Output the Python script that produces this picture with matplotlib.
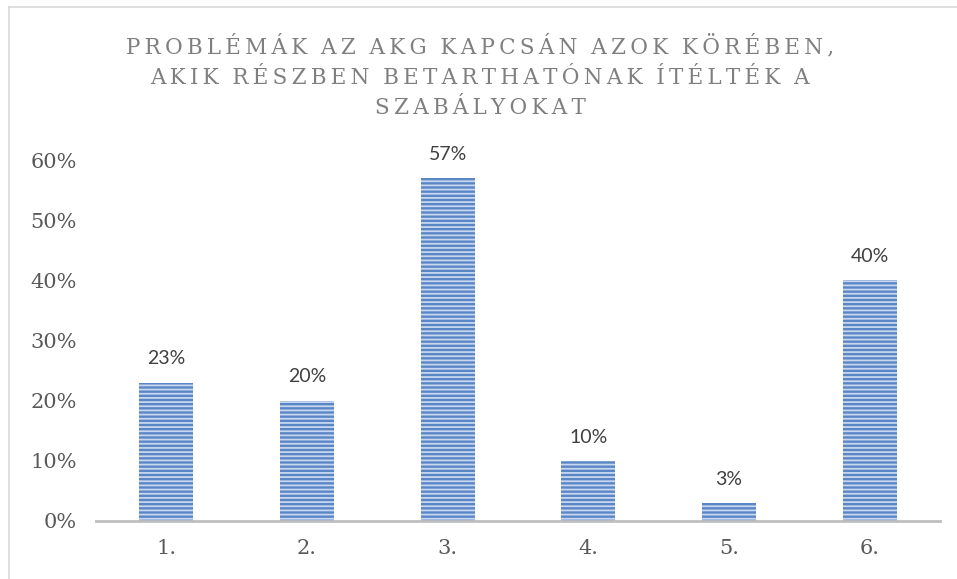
import matplotlib.pyplot as plt
from matplotlib.lines import Line2D

# Chart data
categories = ["1.", "2.", "3.", "4.", "5.", "6."]
values = [0.23, 0.20, 0.57, 0.10, 0.03, 0.40]
yticks = [0, 0.1, 0.2, 0.3, 0.4, 0.5, 0.6]
title_lines = ["PROBLÉMÁK AZ AKG KAPCSÁN AZOK KÖRÉBEN,",
               "AKIK RÉSZBEN BETARTHATÓNAK ÍTÉLTÉK A",
               "SZABÁLYOKAT"]

def spaced(s):
    # widen letter spacing with thin spaces, words keep a single gap
    return "  ".join("\u2009".join(w) for w in s.split(" "))

plt.rcParams['hatch.linewidth'] = 1.3

fig = plt.figure(figsize=(9.57, 5.79), dpi=100)
ax = fig.add_axes([96/957, 58/579, 844/957, 361/579])

x = range(len(categories))
ax.bar(x, values, width=0.385, color="#5b86c6", edgecolor="#c6d7ef",
       linewidth=0, hatch="----")

for xi, v in zip(x, values):
    ax.annotate(f"{round(v*100)}%", (xi, v), xytext=(0, 11), textcoords="offset points",
                ha="center", va="bottom", fontsize=14, color="#404040", family="Lato")

ax.set_xlim(-0.5, 5.5)
ax.set_ylim(0, 0.6)
ax.set_yticks(yticks)
ax.set_yticklabels([f"{round(t*100)}%" for t in yticks], family="DejaVu Serif",
                   fontsize=15, color="#595959")
ax.set_xticks(list(x))
ax.set_xticklabels(categories, family="DejaVu Serif", fontsize=15, color="#595959")
ax.tick_params(length=0)
ax.tick_params(axis="y", pad=14)
ax.tick_params(axis="x", pad=13)

for side in ["top", "right", "left"]:
    ax.spines[side].set_visible(False)
ax.spines["bottom"].set_color("#bfbfbf")
ax.spines["bottom"].set_linewidth(2)
ax.spines["bottom"].set_bounds(-0.5, 5.5)

for i, line in enumerate(title_lines):
    fig.text(480/957, 1 - (47 + i*30.5)/579, spaced(line), ha="center", va="center",
             fontsize=15.5, color="#7f7f7f", family="DejaVu Serif")

# chart frame on the top and left edges
fig.add_artist(Line2D([9/957, 1], [1 - 7/579, 1 - 7/579], color="#d9d9d9", lw=1.2))
fig.add_artist(Line2D([9/957, 9/957], [0, 1 - 7/579], color="#d9d9d9", lw=1.2))

fig.savefig("out.png", dpi=100)
